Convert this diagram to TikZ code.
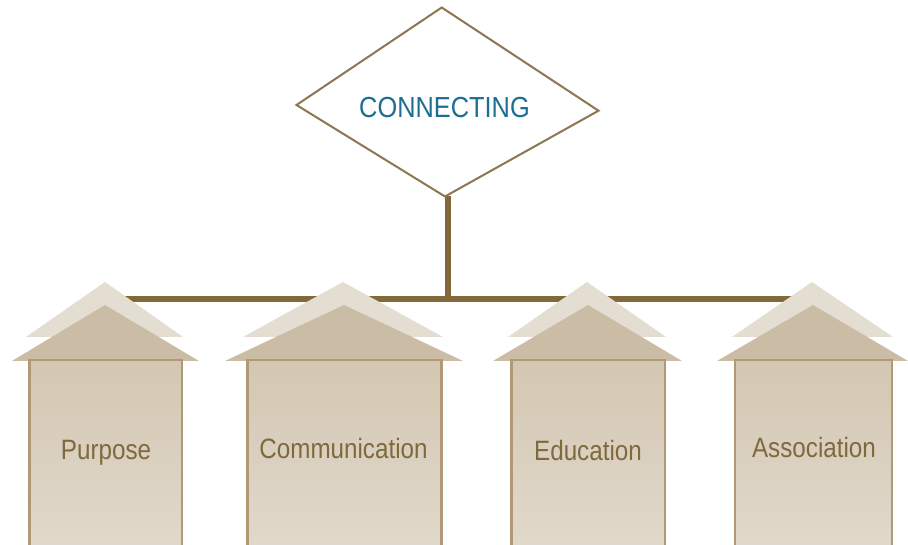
\documentclass[tikz,border=0pt]{standalone}
\usepackage{fontspec}
\setmainfont{Liberation Sans}[FakeStretch=0.865]
\newfontfamily\titlefont{Liberation Sans}[FakeStretch=0.875]
\definecolor{barbrown}{HTML}{83693A}
\definecolor{edgebrown}{HTML}{8C7750}
\definecolor{labelbrown}{HTML}{7F693D}
\definecolor{titleblue}{HTML}{1C6E93}
\definecolor{boxedge}{HTML}{B09A76}
\definecolor{boxtop}{HTML}{D4C7B2}
\definecolor{boxbottom}{HTML}{E1D9CC}
\definecolor{rooffront}{HTML}{CBBCA6}
\definecolor{roofback}{HTML}{E4DED2}
\tikzset{
  link/.style={draw=barbrown, line width=6pt},
  decision/.style={draw=edgebrown, line width=2pt, fill=white, line join=miter},
  backroof/.style={fill=roofback},
  frontroof/.style={fill=rooffront},
  housebox/.style={draw=boxedge, line width=2.4pt, top color=boxtop, bottom color=boxbottom},
  houselabel/.style={anchor=base, text=labelbrown, font=\fontsize{28}{30}\selectfont, inner sep=0pt},
  titlelabel/.style={anchor=base, text=titleblue, font=\titlefont\fontsize{29}{31}\selectfont, inner sep=0pt}
}
\begin{document}
\begin{tikzpicture}[x=1pt, y=-1pt]
  \useasboundingbox (0,0) rectangle (908,545);
  \fill[white] (0,0) rectangle (908,545);
  \clip (0,0) rectangle (908,545);

  % hub points of the connector tree
  \coordinate (stemtop) at (447.5,196);
  \coordinate (hub) at (447.5,299);
  \coordinate (purpose-hook) at (105,299);
  \coordinate (association-hook) at (813,299);

  % horizontal rail and stem, behind everything else
  \draw[link] (purpose-hook) -- (association-hook);
  \draw[link] (stemtop) -- (hub);

  % decision diamond
  \coordinate (d-top) at (441.7,7.5);
  \coordinate (d-right) at (598.5,110.7);
  \coordinate (d-bottom) at (445,196.5);
  \coordinate (d-left) at (296.5,105);
  \draw[decision] (d-top) -- (d-right) -- (d-bottom) -- (d-left) -- cycle;
  \node[titlelabel] (connecting) at (444.5,118) {CONNECTING};

  % houses: box left, box right, front roof left/right, front apex x,
  % back roof left/right, back apex x, label x, label baseline, name, text
  \foreach \bl/\br/\fl/\fr/\fa/\kl/\kr/\ka/\tx/\ty/\nm/\txt in {
      29.5/182/12/199/105/26/183/105/106/459/purpose/Purpose,
      247.5/441.5/225/463/344/243/443/343/343.5/458/communication/Communication,
      511.5/665/493/682/588/508/666/587/588/460/education/Education,
      735/892/717/908/813/732/893/812/814/457/association/Association} {
    \fill[backroof] (\kl,337) -- (\ka,282) -- (\kr,337) -- cycle;
    \fill[frontroof] (\fl,361) -- (\fa,305) -- (\fr,361) -- cycle;
    \draw[housebox] (\bl,360) rectangle (\br,552);
    \node[houselabel] (\nm) at (\tx,\ty) {\txt};
  }
\end{tikzpicture}
\end{document}
